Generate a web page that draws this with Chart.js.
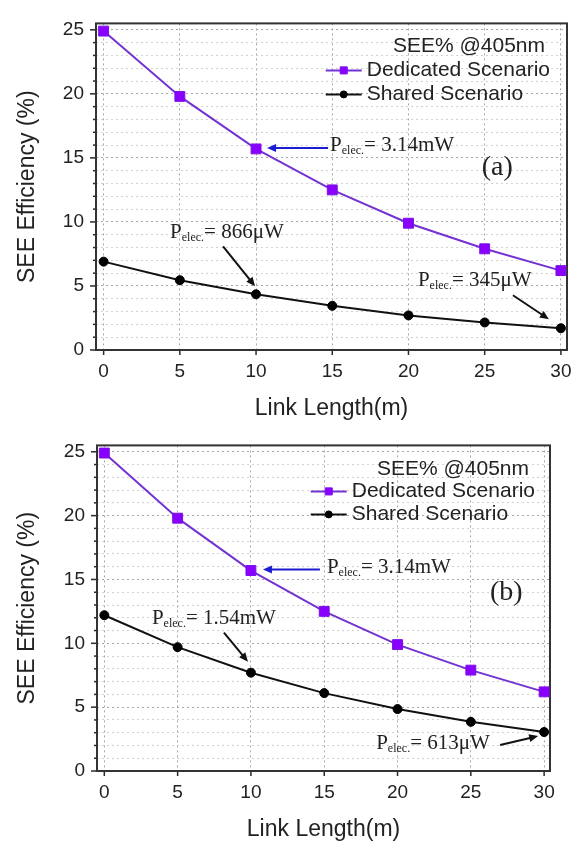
<!DOCTYPE html>
<html>
<head>
<meta charset="utf-8">
<script src="https://cdn.jsdelivr.net/npm/chart.js@4.4.0/dist/chart.umd.min.js"></script>
<style>
  html, body { margin: 0; padding: 0; background: #fff; }
  #wrap { position: relative; width: 583px; height: 843px; }
  canvas { position: absolute; left: 0; }
  #chartA { top: 0; }
  #chartB { top: 422px; }
</style>
</head>
<body>
<div id="wrap">
  <canvas id="chartA" width="583" height="422"></canvas>
  <canvas id="chartB" width="583" height="421"></canvas>
</div>
<script>
// Link length (m) at which SEE was evaluated
const linkLength = [0, 5, 10, 15, 20, 25, 30];
// SEE efficiency (%) for the dedicated scenario (same in both panels)
const dedicatedSEE = [24.9, 19.8, 15.7, 12.5, 9.9, 7.9, 6.2];
// SEE efficiency (%) for the shared scenario, panel (a) and panel (b)
const sharedSEE_a = [6.9, 5.45, 4.35, 3.45, 2.7, 2.15, 1.7];
const sharedSEE_b = [12.2, 9.7, 7.7, 6.1, 4.85, 3.85, 3.05];
// Axis ticks
const xTickValues = [0, 5, 10, 15, 20, 25, 30];
const yTickValues = [0, 1, 2, 3, 4, 5, 6, 7, 8, 9, 10, 11, 12, 13, 14, 15, 16, 17, 18, 19, 20, 21, 22, 23, 24, 25];
const yLabelEvery = 5;
// Text
const seriesNames = ['Dedicated Scenario', 'Shared Scenario'];
const legendTitle = 'SEE% @405nm';
const xTitle = 'Link Length(m)';
const yTitle = 'SEE Efficiency (%)';
// Electrical power annotations
const powerA = ['3.14mW', '866\u03bcW', '345\u03bcW'];
const powerB = ['3.14mW', '1.54mW', '613\u03bcW'];

const SANS = '"Liberation Sans", Arial, sans-serif';
const SERIF = '"Liberation Serif", "Times New Roman", serif';
const INK = '#222';

function drawArrow(ctx, x0, y0, x1, y1, color) {
  const ang = Math.atan2(y1 - y0, x1 - x0);
  const head = 9, half = 4;
  ctx.save();
  ctx.strokeStyle = color;
  ctx.fillStyle = color;
  ctx.lineWidth = 2;
  ctx.beginPath();
  ctx.moveTo(x0, y0);
  ctx.lineTo(x1 - Math.cos(ang) * head * 0.8, y1 - Math.sin(ang) * head * 0.8);
  ctx.stroke();
  ctx.beginPath();
  ctx.moveTo(x1, y1);
  ctx.lineTo(x1 - Math.cos(ang) * head - Math.sin(ang) * half, y1 - Math.sin(ang) * head + Math.cos(ang) * half);
  ctx.lineTo(x1 - Math.cos(ang) * head + Math.sin(ang) * half, y1 - Math.sin(ang) * head - Math.cos(ang) * half);
  ctx.closePath();
  ctx.fill();
  ctx.restore();
}

// "P" with subscript "elec." followed by "= value"
function drawPelec(ctx, x, y, value) {
  ctx.save();
  ctx.fillStyle = INK;
  ctx.textAlign = 'left';
  ctx.textBaseline = 'alphabetic';
  ctx.font = '21px ' + SERIF;
  ctx.fillText('P', x, y);
  let cx = x + ctx.measureText('P').width;
  ctx.font = '12px ' + SERIF;
  ctx.fillText('elec.', cx, y + 3);
  cx += ctx.measureText('elec.').width;
  ctx.font = '21px ' + SERIF;
  ctx.fillText('= ' + value, cx, y);
  ctx.restore();
}

// Plot frame plus outward tick marks (long on multiples of 5, short otherwise)
const framePlugin = {
  id: 'frame',
  beforeDatasetsDraw(chart) {
    const { ctx, chartArea: a } = chart;
    const xs = chart.scales.x, ys = chart.scales.y;
    ctx.save();
    ctx.strokeStyle = '#2a2a2a';
    ctx.lineWidth = 1.5;
    ys.ticks.forEach(t => {
      const y = ys.getPixelForValue(t.value);
      const len = t.value % yLabelEvery === 0 ? 6 : 3;
      ctx.beginPath();
      ctx.moveTo(a.left - len, y);
      ctx.lineTo(a.left, y);
      ctx.stroke();
    });
    xs.ticks.forEach(t => {
      const x = xs.getPixelForValue(t.value);
      ctx.beginPath();
      ctx.moveTo(x, a.bottom);
      ctx.lineTo(x, a.bottom + 5);
      ctx.stroke();
    });
    ctx.lineWidth = 2;
    ctx.strokeStyle = '#333';
    ctx.strokeRect(a.left, a.top, a.right - a.left, a.bottom - a.top);
    ctx.restore();
  }
};

function legendPlugin(cfg) {
  return {
    id: 'seeLegend',
    afterDraw(chart) {
      const { ctx, chartArea: a } = chart;
      ctx.save();
      ctx.font = '21px ' + SANS;
      ctx.fillStyle = INK;
      ctx.textBaseline = 'middle';
      ctx.textAlign = 'right';
      ctx.fillText(legendTitle, a.right - cfg.titleInset, a.top + cfg.rows[0]);
      const widest = Math.max(...chart.data.datasets.map(d => ctx.measureText(d.label).width));
      const tx = a.right - cfg.textInset - widest;
      ctx.textAlign = 'left';
      chart.data.datasets.forEach((ds, i) => {
        const y = a.top + cfg.rows[i + 1];
        ctx.strokeStyle = ds.borderColor;
        ctx.lineWidth = 2;
        ctx.beginPath();
        ctx.moveTo(tx - 41, y);
        ctx.lineTo(tx - 5, y);
        ctx.stroke();
        ctx.fillStyle = ds.pointBackgroundColor;
        ctx.strokeStyle = ds.pointBorderColor;
        ctx.lineWidth = 1;
        Chart.helpers.drawPoint(ctx, {
          pointStyle: ds.pointStyle,
          radius: ds.pointStyle === 'rect' ? 5 : 3.5,
          rotation: 0,
          borderWidth: 1
        }, tx - 23, y);
        ctx.fillStyle = INK;
        ctx.fillText(ds.label, tx, y);
      });
      ctx.restore();
    }
  };
}

function notesPlugin(cfg) {
  return {
    id: 'notes',
    afterDraw(chart) {
      const { ctx } = chart;
      const xs = chart.scales.x, ys = chart.scales.y;
      cfg.notes.forEach(n => {
        const px = xs.getPixelForValue(n.at[0]);
        const py = ys.getPixelForValue(n.at[1]);
        drawArrow(ctx, px + n.tail[0], py + n.tail[1], px + n.tip[0], py + n.tip[1], n.color);
        drawPelec(ctx, px + n.label[0], py + n.label[1], n.text);
      });
      ctx.save();
      ctx.font = '28px ' + SERIF;
      ctx.fillStyle = INK;
      ctx.textAlign = 'left';
      ctx.textBaseline = 'alphabetic';
      ctx.fillText(cfg.tag.text, xs.getPixelForValue(cfg.tag.at[0]), ys.getPixelForValue(cfg.tag.at[1]));
      ctx.restore();
    }
  };
}

function buildChart(canvasId, shared, cfg) {
  return new Chart(document.getElementById(canvasId), {
    type: 'line',
    data: {
      datasets: [
        {
          label: seriesNames[0],
          data: linkLength.map((x, i) => ({ x, y: dedicatedSEE[i] })),
          borderColor: '#7332d2',
          borderWidth: 2,
          pointStyle: 'rect',
          pointRadius: 7,
          pointBackgroundColor: '#8a00ff',
          pointBorderColor: '#7a10e6',
          pointBorderWidth: 1,
          tension: 0
        },
        {
          label: seriesNames[1],
          data: linkLength.map((x, i) => ({ x, y: shared[i] })),
          borderColor: '#111',
          borderWidth: 2,
          pointStyle: 'circle',
          pointRadius: 4.5,
          pointBackgroundColor: '#000',
          pointBorderColor: '#000',
          pointBorderWidth: 1,
          tension: 0
        }
      ]
    },
    options: {
      responsive: false,
      animation: false,
      devicePixelRatio: 1,
      layout: { padding: cfg.padding },
      plugins: { legend: { display: false }, tooltip: { enabled: false } },
      scales: {
        x: {
          type: 'linear',
          min: -0.5,
          max: 30.4,
          afterBuildTicks: s => { s.ticks = xTickValues.map(v => ({ value: v })); },
          afterFit: s => { s.height = 72; },
          ticks: { autoSkip: false, maxRotation: 0, padding: 10, color: INK, font: { family: SANS, size: 19 }, callback: v => String(v) },
          grid: { drawTicks: false, color: '#a6a6a6', lineWidth: 1 },
          border: { display: false, dash: [2, 3] },
          title: { display: true, text: xTitle, color: INK, font: { family: SANS, size: 23 }, padding: { top: 0, bottom: 0 } }
        },
        y: {
          type: 'linear',
          min: 0,
          max: 25.5,
          afterBuildTicks: s => { s.ticks = yTickValues.map(v => ({ value: v })); },
          afterFit: s => { s.width = cfg.yWidth; },
          ticks: {
            autoSkip: false,
            padding: 12, color: INK, font: { family: SANS, size: 19 },
            callback: v => (v % yLabelEvery === 0 ? String(v) : '')
          },
          grid: {
            drawTicks: false,
            lineWidth: 1,
            color: c => (c.tick && c.tick.value % yLabelEvery === 0 ? '#a6a6a6' : '#d2d2d2')
          },
          border: { display: false, dash: [2, 3] },
          title: { display: true, text: yTitle, color: INK, font: { family: SANS, size: 23 }, padding: { top: 14, bottom: 0 } }
        }
      }
    },
    plugins: [framePlugin, legendPlugin(cfg.legend), notesPlugin(cfg)]
  });
}

buildChart('chartA', sharedSEE_a, {
  padding: { left: 0, right: 16, top: 4, bottom: 0 },
  yWidth: 96,
  legend: { titleInset: 22, textInset: 17, rows: [23, 47, 71] },
  notes: [
    { at: [linkLength[2], dedicatedSEE[2]], tip: [11, -1], tail: [72, -1], label: [74, 2], text: powerA[0], color: '#1c1cd0' },
    { at: [linkLength[2], sharedSEE_a[2]], tip: [-1, -8], tail: [-33, -48], label: [-86, -56], text: powerA[1], color: '#111' },
    { at: [linkLength[6], sharedSEE_a[6]], tip: [-12, -9], tail: [-48, -33], label: [-143, -42], text: powerA[2], color: '#111' }
  ],
  tag: { text: '(a)', at: [24.8, 13.7] }
});

buildChart('chartB', sharedSEE_b, {
  padding: { left: 0, right: 33, top: 17, bottom: 0 },
  yWidth: 97,
  legend: { titleInset: 21, textInset: 15, rows: [24, 46, 69] },
  notes: [
    { at: [linkLength[2], dedicatedSEE[2]], tip: [12, -1], tail: [69, -1], label: [76, 2], text: powerB[0], color: '#1c1cd0' },
    { at: [linkLength[2], sharedSEE_b[2]], tip: [-3, -11], tail: [-27, -40], label: [-99, -49], text: powerB[1], color: '#111' },
    { at: [linkLength[6], sharedSEE_b[6]], tip: [-6, 4], tail: [-44, 13], label: [-168, 17], text: powerB[2], color: '#111' }
  ],
  tag: { text: '(b)', at: [26.3, 13.4] }
});
</script>
</body>
</html>
